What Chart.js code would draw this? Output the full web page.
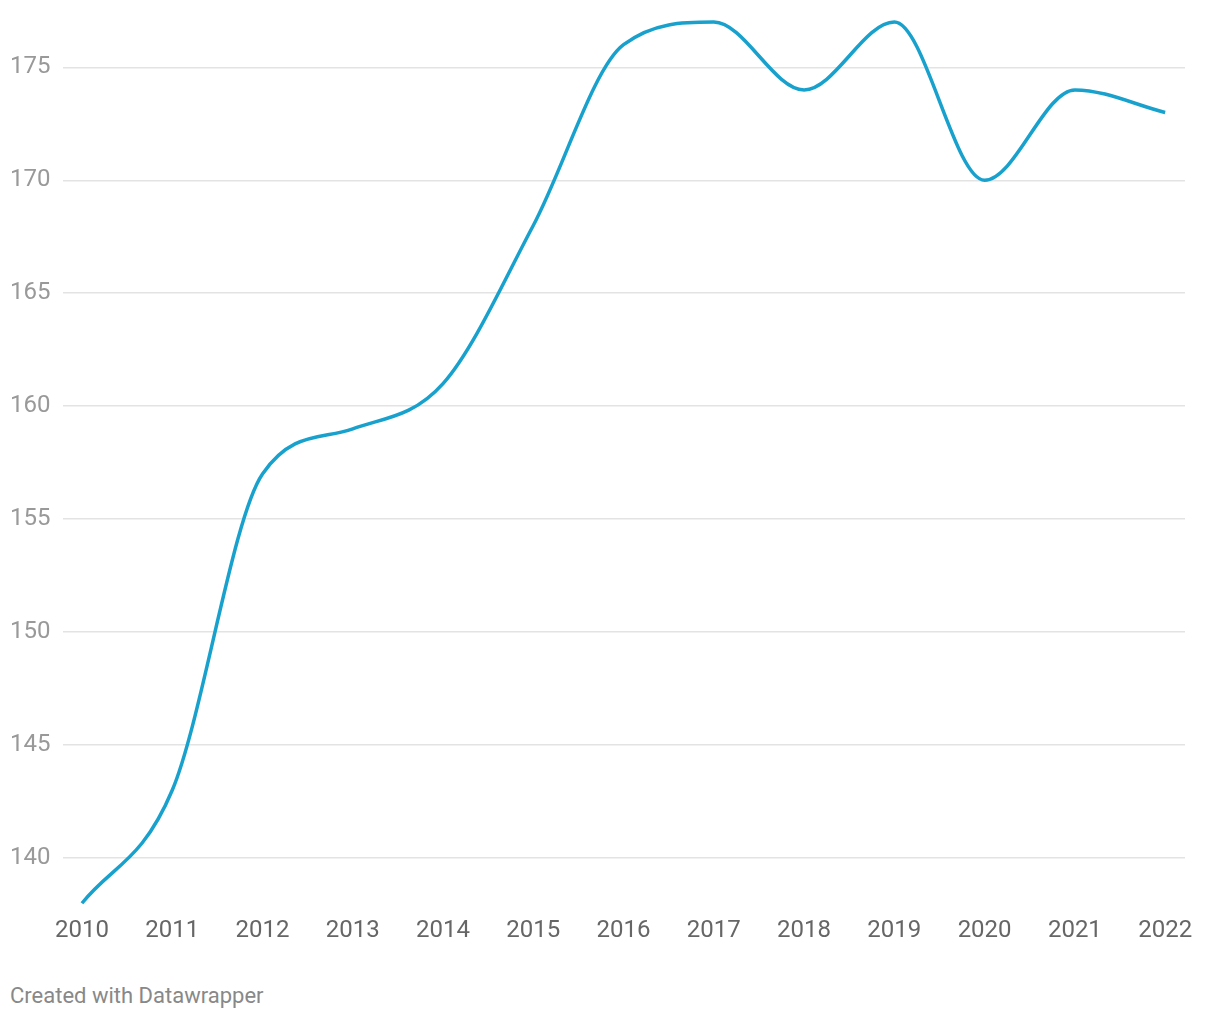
<!DOCTYPE html>
<html>
<head>
<meta charset="utf-8">
<script src="https://cdn.jsdelivr.net/npm/chart.js@4/dist/chart.umd.min.js"></script>
<style>
  body { margin: 0; background: #fff; }
  #wrap { position: relative; width: 1220px; height: 1020px; }
  #c { position: absolute; left: 0; top: 0; }
  .credit { position: absolute; left: 10px; top: 983px; font-family: Roboto, sans-serif; font-size: 22px; color: #888; }
</style>
</head>
<body>
<div id="wrap">
  <canvas id="c" width="1220" height="960"></canvas>
  <div class="credit">Created with Datawrapper</div>
</div>
<script>
// annees et valeurs
const years = [2010, 2011, 2012, 2013, 2014, 2015, 2016, 2017, 2018, 2019, 2020, 2021, 2022];
const values = [138, 143, 157, 159, 161, 168, 176, 177, 174, 177, 170, 174, 173];
const yTicks = [140, 145, 150, 155, 160, 165, 170, 175];

const points = years.map((y, i) => ({ x: y, y: values[i] }));

new Chart(document.getElementById('c'), {
  type: 'line',
  data: {
    datasets: [{
      data: points,
      borderColor: '#18a1cd',
      borderWidth: 3.5,
      pointRadius: 0,
      cubicInterpolationMode: 'monotone',
      fill: false,
      clip: false
    }]
  },
  options: {
    responsive: false,
    animation: false,
    layout: { padding: { left: 10, right: 35, top: 10, bottom: 0 } },
    plugins: { legend: { display: false }, tooltip: { enabled: false } },
    scales: {
      x: {
        type: 'linear',
        min: 2009.79,
        max: 2022.22,
        grid: { display: false, drawTicks: false },
        border: { display: false },
        afterBuildTicks: (s) => { s.ticks = years.map(v => ({ value: v })); },
        afterFit: (s) => { s.height = 52; },
        ticks: {
          padding: 9,
          maxRotation: 0,
          autoSkip: false,
          color: '#666',
          font: { family: 'Roboto', size: 24 },
          callback: (v) => String(v)
        }
      },
      y: {
        min: 137.79,
        max: 176.81,
        grid: { color: '#e3e3e3', lineWidth: 1.5, drawTicks: false },
        border: { display: false },
        afterBuildTicks: (s) => { s.ticks = yTicks.map(v => ({ value: v })); },
        afterFit: (s) => { s.width = 53; },
        ticks: {
          crossAlign: 'far',
          padding: 12,
          color: '#999',
          font: { family: 'Roboto', size: 24 },
          callback: (v) => String(v)
        }
      }
    }
  }
});
</script>
</body>
</html>
